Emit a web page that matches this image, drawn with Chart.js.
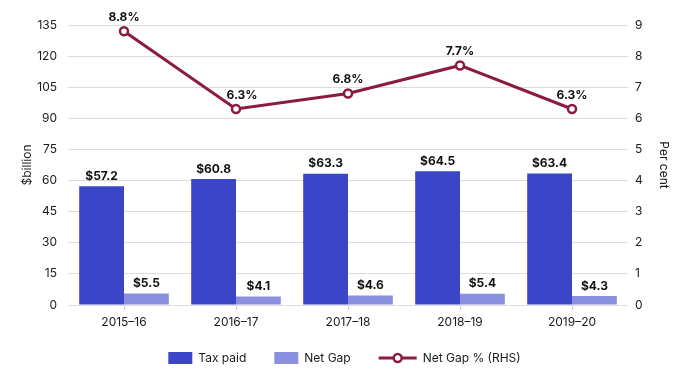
<!DOCTYPE html>
<html>
<head>
<meta charset="utf-8">
<script src="https://cdn.jsdelivr.net/npm/chart.js@4.4.0/dist/chart.umd.min.js"></script>
<style>
html,body{margin:0;padding:0;background:#fff;}
#wrap{width:689px;height:388px;}
</style>
</head>
<body>
<div id="wrap"><canvas id="c" width="689" height="388"></canvas></div>
<script>
const categories = ['2015–16','2016–17','2017–18','2018–19','2019–20'];
const taxPaid = [57.2, 60.8, 63.3, 64.5, 63.4];
const netGap = [5.5, 4.1, 4.6, 5.4, 4.3];
const netGapPct = [8.8, 6.3, 6.8, 7.7, 6.3];
const leftTicks = {min: 0, max: 135, step: 15};
const rightTicks = {min: 0, max: 9, step: 1};

const C_TAX = '#3a45c8';
const C_GAP = '#8a8fe0';
const C_LINE = '#8b1a45';
const FONT = 'Inter, "Noto Sans", sans-serif';
const TXT = '#1a1a1a';

const labelPlugin = {
  id: 'valueLabels',
  afterDatasetsDraw(chart) {
    const ctx = chart.ctx;
    ctx.save();
    ctx.font = 'bold 12px ' + FONT;
    ctx.fillStyle = '#111';
    ctx.textAlign = 'center';
    ctx.textBaseline = 'bottom';
    chart.data.datasets.forEach((ds, i) => {
      const meta = chart.getDatasetMeta(i);
      meta.data.forEach((el, j) => {
        const v = ds.data[j];
        if (ds.type === 'line') {
          // nudge label right where the line descends steeply into the point
          const prev = j > 0 ? ds.data[j - 1] : null;
          const dx = (prev !== null && prev - v > 1.5) ? 6 : 0;
          ctx.fillText(v.toFixed(1) + '%', el.x + dx, el.y - 8);
        } else {
          ctx.fillText('$' + v.toFixed(1), el.x, el.y - 4);
        }
      });
    });
    ctx.restore();
  }
};

const legendPlugin = {
  id: 'customLegend',
  afterDraw(chart) {
    const ctx = chart.ctx;
    ctx.save();
    ctx.font = '12px ' + FONT;
    ctx.textBaseline = 'middle';
    const items = [
      {text: 'Tax paid', kind: 'box', color: C_TAX, w: 24},
      {text: 'Net Gap', kind: 'box', color: C_GAP, w: 24},
      {text: 'Net Gap % (RHS)', kind: 'line', color: C_LINE, w: 38}
    ];
    const gapIcon = 6, gapItem = 28;
    let total = 0;
    items.forEach((it, k) => {
      it.tw = ctx.measureText(it.text).width;
      total += it.w + gapIcon + it.tw + (k < items.length - 1 ? gapItem : 0);
    });
    let x = (chart.width - total) / 2;
    const y = 358;
    items.forEach(it => {
      if (it.kind === 'box') {
        ctx.fillStyle = it.color;
        ctx.fillRect(x, y - 6, it.w, 12);
      } else {
        ctx.strokeStyle = it.color;
        ctx.lineWidth = 3;
        ctx.beginPath();
        ctx.moveTo(x, y);
        ctx.lineTo(x + it.w, y);
        ctx.stroke();
        ctx.beginPath();
        ctx.arc(x + it.w / 2, y, 4, 0, Math.PI * 2);
        ctx.fillStyle = '#fff';
        ctx.fill();
        ctx.lineWidth = 2.5;
        ctx.stroke();
      }
      x += it.w + gapIcon;
      ctx.fillStyle = TXT;
      ctx.textAlign = 'left';
      ctx.fillText(it.text, x, y);
      x += it.tw + gapItem;
    });
    ctx.restore();
  }
};

new Chart(document.getElementById('c'), {
  data: {
    labels: categories,
    datasets: [
      {type: 'line', label: 'Net Gap % (RHS)', data: netGapPct, yAxisID: 'y1',
       borderColor: C_LINE, borderWidth: 3, backgroundColor: '#fff',
       pointBackgroundColor: '#fff', pointBorderColor: C_LINE, pointBorderWidth: 2.5,
       pointRadius: 4, tension: 0, order: 0},
      {type: 'bar', label: 'Tax paid', data: taxPaid, yAxisID: 'y',
       backgroundColor: C_TAX, categoryPercentage: 0.8, barPercentage: 1.0, order: 1},
      {type: 'bar', label: 'Net Gap', data: netGap, yAxisID: 'y',
       backgroundColor: C_GAP, categoryPercentage: 0.8, barPercentage: 1.0, order: 1}
    ]
  },
  options: {
    responsive: false,
    animation: false,
    devicePixelRatio: 1,
    layout: {padding: {left: 20, right: 4, top: 25, bottom: 52}},
    plugins: {legend: {display: false}, tooltip: {enabled: false}},
    scales: {
      x: {
        offset: true,
        grid: {display: true, offset: false, drawOnChartArea: false, drawTicks: true, tickLength: 5, color: '#d6d6d6'},
        border: {display: false},
        ticks: {color: TXT, font: {family: FONT, size: 12}, padding: 5},
        afterFit(scale) { scale.height = 31; }
      },
      y: {
        position: 'left',
        min: leftTicks.min, max: leftTicks.max,
        ticks: {stepSize: leftTicks.step, color: TXT, font: {family: FONT, size: 12}, padding: 11},
        grid: {color: '#dcdcdc', drawTicks: false},
        border: {display: false},
        title: {display: true, text: '$billion', color: TXT, font: {family: FONT, size: 12}, padding: 0},
        afterFit(scale) { scale.width = 48; }
      },
      y1: {
        position: 'right',
        min: rightTicks.min, max: rightTicks.max,
        ticks: {stepSize: rightTicks.step, color: TXT, font: {family: FONT, size: 12}, padding: 7},
        grid: {display: false, drawTicks: false},
        border: {display: false},
        title: {display: true, text: 'Per cent', color: TXT, font: {family: FONT, size: 12}, padding: {top: 14}},
        afterFit(scale) { scale.width = 57; }
      }
    }
  },
  plugins: [labelPlugin, legendPlugin]
});
</script>
</body>
</html>
